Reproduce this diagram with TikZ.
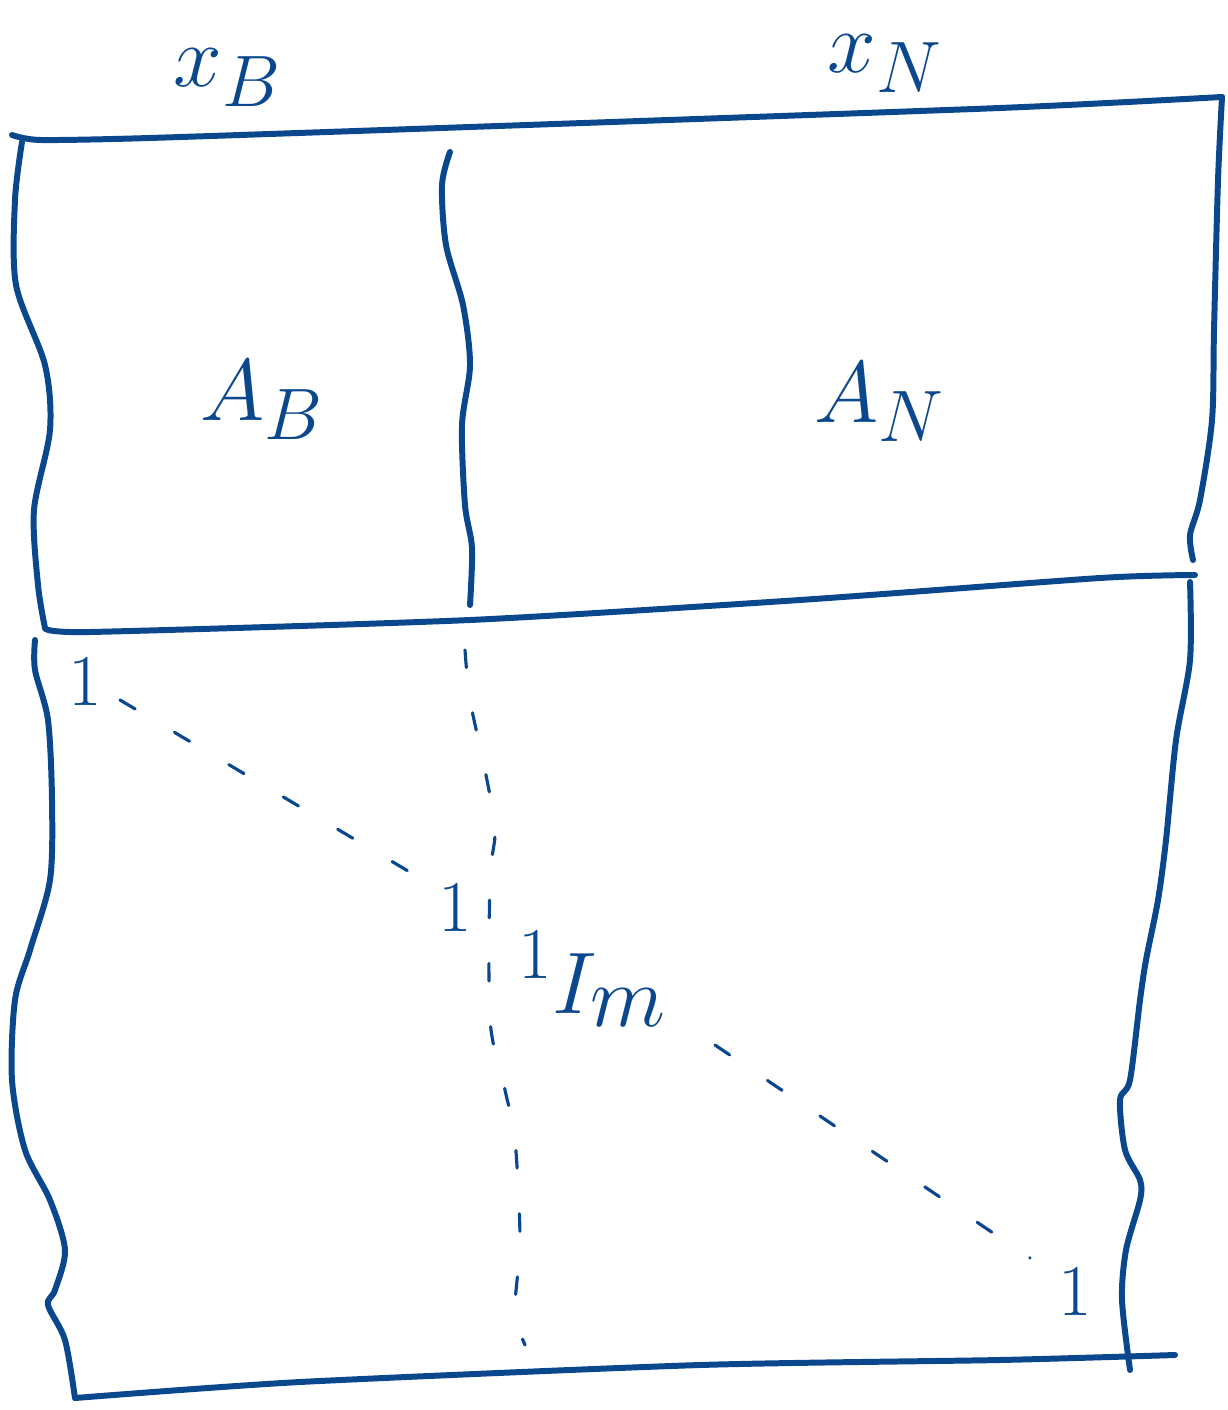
\documentclass[tikz,border=0pt]{standalone}
\usepackage{amsmath}
\usepackage{xcolor}
\usepackage{tikz}
\usetikzlibrary{calc}
\definecolor{penblue}{HTML}{0A478C}

\begin{document}
\begin{tikzpicture}[
  x=0.01cm, y=-0.01cm,
  every node/.style={text=penblue, inner sep=0pt},
  pen/.style={draw=penblue, line width=1.7pt, line cap=round, line join=round},
  guide/.style={draw=penblue, line width=0.9pt, line cap=round,
                dash pattern=on 5pt off 13pt},
  lbl/.style={font=\fontsize{29}{31}\selectfont},
  big/.style={font=\fontsize{34}{36}\selectfont},
  one/.style={font=\fontsize{21}{21}\selectfont}
]
\useasboundingbox (0,0) rectangle (1227,1410);

%% corners
\coordinate (tl) at (12,135);
\coordinate (tr) at (1222,97);
\coordinate (ml) at (45,628);
\coordinate (mr) at (1195,575);
\coordinate (bl) at (75,1398);
\coordinate (br) at (1175,1355);
\coordinate (dtop) at (450,152);
\coordinate (dbot) at (470,605);

%% top block
\draw[pen] plot[smooth, tension=0.4] coordinates
  {(tl) (40,140) (150,138) (470,127) (1000,108) (tr)};
\draw[pen] plot[smooth, tension=0.5] coordinates
  {(22,142) (15,200) (16,285) (45,365) (50,430) (34,510) (38,585) (ml)};
\draw[pen] plot[smooth, tension=0.5] coordinates
  {(dtop) (442,185) (446,245) (463,305) (470,365) (462,425) (465,505) (472,548) (dbot)};
\draw[pen] plot[smooth, tension=0.5] coordinates
  {(tr) (1218,180) (1214,330) (1212,420) (1200,500) (1190,535) (1193,560)};
\draw[pen] plot[smooth, tension=0.4] coordinates
  {(ml) (90,632) (470,620) (800,600) (1100,578) (mr)};

%% lower block
\draw[pen] plot[smooth, tension=0.5] coordinates
  {(35,640) (35,670) (48,720) (52,800) (50,880) (30,950) (15,1000) (12,1080)
   (25,1150) (50,1200) (65,1250) (55,1290) (48,1305) (65,1340) (bl)};
\draw[pen] plot[smooth, tension=0.5] coordinates
  {(1190,582) (1190,660) (1176,740) (1166,840) (1158,900) (1146,960) (1140,1000)
   (1130,1080) (1120,1100) (1125,1150) (1140,1180) (1140,1200) (1126,1250)
   (1122,1300) (1130,1370)};
\draw[pen] plot[smooth, tension=0.4] coordinates
  {(bl) (300,1382) (700,1365) (1000,1360) (br)};

%% identity dashes
\draw[guide] (120,700) -- (440,890);
\draw[guide] (715,1045) -- (1030,1258);
\draw[guide] plot[smooth, tension=0.5] coordinates
  {(465,650) (470,700) (485,770) (495,830) (490,880) (490,1020) (505,1090)
   (515,1140) (520,1240) (515,1310) (525,1345)};

%% labels
\node[lbl] (xb) at (228,78) {$x_B$};
\node[lbl] (xn) at (885,64) {$x_N$};
\node[lbl] (ab) at (262,400) {$A_B$};
\node[lbl] (an) at (880,402) {$A_N$};
\node[big] (im) at (610,990) {$I_m$};

\foreach \p/\q in {85/682,455/908,535/955,1075/1292}
  \node[one] at (\p,\q) {$1$};
\end{tikzpicture}
\end{document}
